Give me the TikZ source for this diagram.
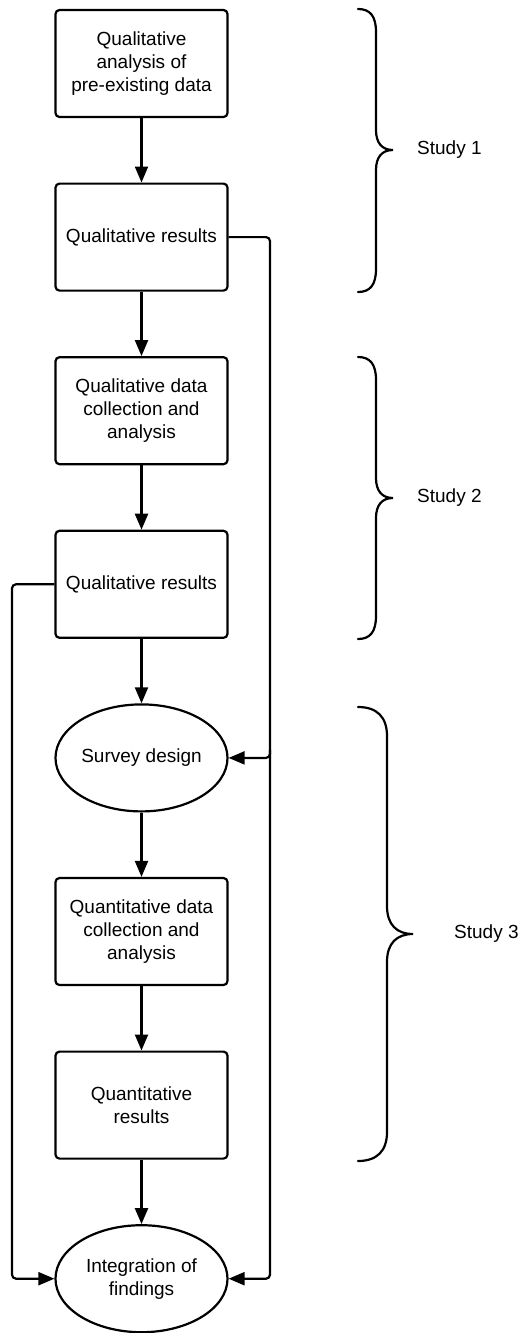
\documentclass[tikz,border=0pt]{standalone}
\usepackage{fontspec}
\setmainfont{Liberation Sans}
\usetikzlibrary{arrows.meta,shapes.geometric,calc}
\begin{document}
\begin{tikzpicture}[x=1pt,y=-1pt,
  every node/.style={font=\fontsize{19}{23}\selectfont, align=center, inner sep=0pt},
  stepbox/.style={draw, line width=2.2pt, rounded corners=4pt, minimum width=172pt, minimum height=107pt},
  oval/.style={draw, ellipse, line width=2.2pt, minimum width=172pt, minimum height=107pt},
  conn/.style={line width=2.2pt, rounded corners=4pt, -{Triangle[length=16pt,width=13pt]}},
  brace/.style={line width=2.2pt, line cap=round},
  studylabel/.style={anchor=west}]
\useasboundingbox (0,0) rectangle (525,1333);
\node[stepbox] (b1) at (141.5,63.5) {Qualitative\\analysis of\\pre-existing data};
\node[stepbox] (b2) at (141.5,237.1) {Qualitative results};
\node[stepbox] (b3) at (141.5,410.7) {Qualitative data\\collection and\\analysis};
\node[stepbox] (b4) at (141.5,584.3) {Qualitative results};
\node[oval] (e1) at (141.5,757.9) {Survey design};
\node[stepbox] (b5) at (141.5,931.5) {Quantitative data\\collection and\\analysis};
\node[stepbox] (b6) at (141.5,1105.1) {Quantitative\\results};
\node[oval] (e2) at (141.5,1278.7) {Integration of\\findings};
\coordinate (rx) at (270,0);
\coordinate (lx) at (12,0);
\draw[conn] (b1) -- (b2);
\draw[conn] (b2) -- (b3);
\draw[conn] (b3) -- (b4);
\draw[conn] (b4) -- (e1);
\draw[conn] (e1) -- (b5);
\draw[conn] (b5) -- (b6);
\draw[conn] (b6) -- (e2);
\draw[conn] (b2.east) -- (b2.east -| rx) |- (e2.east);
\draw[conn] ($(e1.east -| rx)+(0,-8)$) |- (e1.east);
\draw[conn] (b4.west) -- (b4.west -| lx) |- (e2.west);
% braces
\draw[brace] (358,9) .. controls (370,9) and (376,16) .. (376,32) -- (376,130) .. controls (376,143) and (382,150) .. (393,150) .. controls (382,150) and (376,157) .. (376,170) -- (376,269) .. controls (376,285) and (370,292) .. (358,292);
\draw[brace] (358,357) .. controls (370,357) and (376,364) .. (376,380) -- (376,478) .. controls (376,491) and (382,498) .. (393,498) .. controls (382,498) and (376,505) .. (376,518) -- (376,616) .. controls (376,632) and (370,639) .. (358,639);
\draw[brace] (358,707) .. controls (377,707) and (387,717) .. (387,736) -- (387,906) .. controls (387,925) and (397,934) .. (413,934) .. controls (397,934) and (387,943) .. (387,962) -- (387,1132) .. controls (387,1151) and (377,1161) .. (358,1161);
\node[studylabel] (s1) at (417,150) {Study 1};
\node[studylabel] (s2) at (417,498) {Study 2};
\node[studylabel] (s3) at (454,934) {Study 3};
\end{tikzpicture}
\end{document}
